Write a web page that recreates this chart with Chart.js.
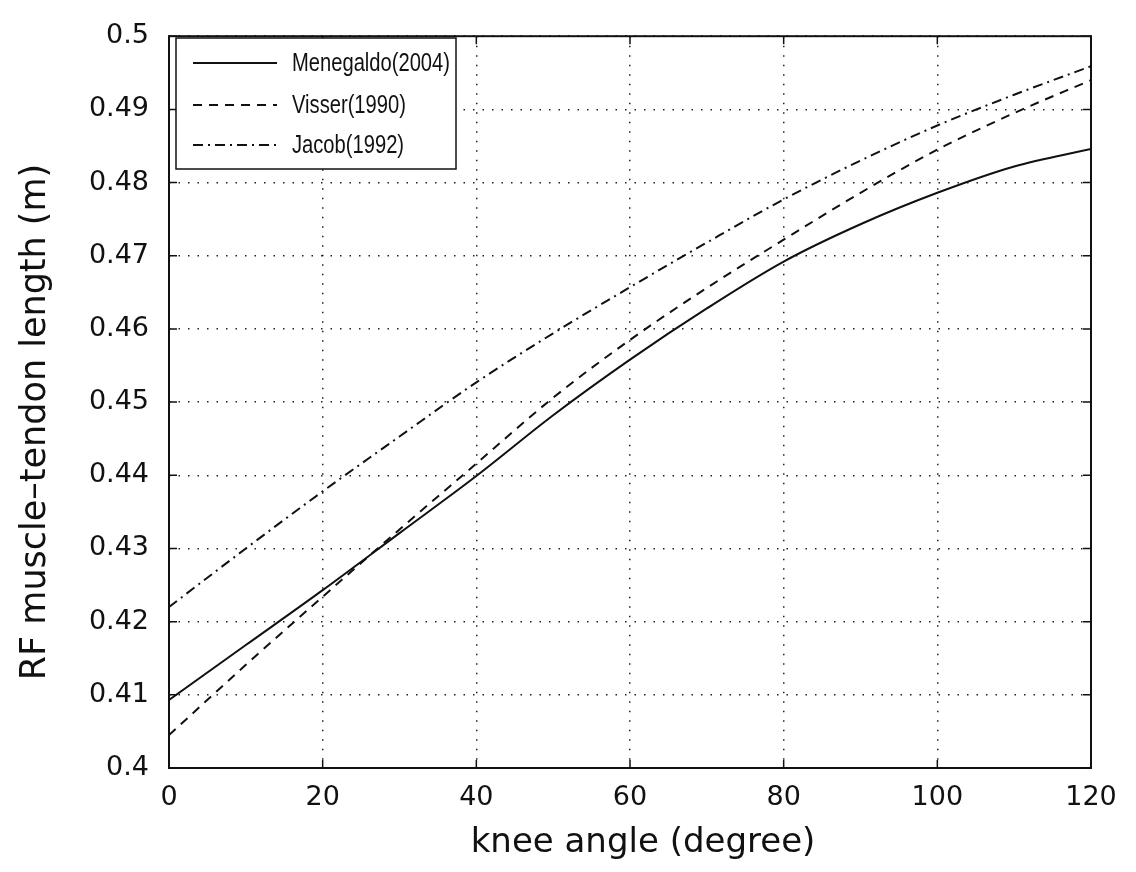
<!DOCTYPE html>
<html>
<head>
<meta charset="utf-8">
<script src="https://cdn.jsdelivr.net/npm/chart.js@4.4.1/dist/chart.umd.min.js"></script>
<style>
  html, body { margin: 0; padding: 0; background: #fff; }
  #wrap { width: 1136px; height: 872px; }
</style>
</head>
<body>
<div id="wrap"><canvas id="rfChart" width="1136" height="872"></canvas></div>
<script>
// knee angle (degree)
const angles = [0, 10, 20, 30, 40, 50, 60, 70, 80, 90, 100, 110, 120];

// RF muscle-tendon length (m)
const menegaldo = [0.4093, 0.4168, 0.4243, 0.4321, 0.4399, 0.4482, 0.4558, 0.4628, 0.4692, 0.4743, 0.4786, 0.4822, 0.4846];
const visser    = [0.4045, 0.4141, 0.4234, 0.4326, 0.4416, 0.4506, 0.4585, 0.4656, 0.4722, 0.4786, 0.4845, 0.4895, 0.4940];
const jacob     = [0.4220, 0.4300, 0.4378, 0.4453, 0.4527, 0.4594, 0.4657, 0.4718, 0.4777, 0.4830, 0.4878, 0.4920, 0.4959];

const seriesNames = ['Menegaldo(2004)', 'Visser(1990)', 'Jacob(1992)'];
const xTitle = 'knee angle (degree)';
const yTitle = 'RF muscle\u2013tendon length (m)';

const INK = '#111';
const dashes = [[], [9, 7], [10, 5, 2, 5]];

function toPoints(values) {
    return angles.map((a, i) => ({ x: a, y: values[i] }));
}

// 边框、内向刻度、图例和坐标轴标题
const framePlugin = {
    id: 'frame',
    afterDraw(chart) {
        const ctx = chart.ctx;
        const area = chart.chartArea;
        const xs = chart.scales.x;
        const ys = chart.scales.y;

        ctx.save();
        ctx.strokeStyle = INK;
        ctx.lineWidth = 2;
        ctx.setLineDash([]);
        ctx.strokeRect(area.left, area.top, area.right - area.left, area.bottom - area.top);

        // inward ticks on all four sides
        const tl = 8;
        ctx.lineWidth = 1.5;
        ctx.beginPath();
        xs.ticks.forEach((t, i) => {
            const px = xs.getPixelForTick(i);
            ctx.moveTo(px, area.bottom); ctx.lineTo(px, area.bottom - tl);
            ctx.moveTo(px, area.top); ctx.lineTo(px, area.top + tl);
        });
        ys.ticks.forEach((t, i) => {
            const py = ys.getPixelForTick(i);
            ctx.moveTo(area.left, py); ctx.lineTo(area.left + tl, py);
            ctx.moveTo(area.right, py); ctx.lineTo(area.right - tl, py);
        });
        ctx.stroke();

        // legend
        const lx = 176, ly = 38, lw = 280, lh = 131;
        ctx.fillStyle = '#fff';
        ctx.fillRect(lx, ly, lw, lh);
        ctx.lineWidth = 1.5;
        ctx.strokeRect(lx, ly, lw, lh);
        const rows = [63, 105, 145];
        ctx.font = "25px 'Liberation Sans', sans-serif";
        ctx.textBaseline = 'middle';
        ctx.textAlign = 'left';
        ctx.fillStyle = INK;
        const squeeze = Math.min(1, 158 / ctx.measureText(seriesNames[0]).width);
        seriesNames.forEach((name, i) => {
            ctx.lineWidth = 2;
            ctx.setLineDash(dashes[i]);
            ctx.beginPath();
            ctx.moveTo(193, rows[i]);
            ctx.lineTo(277, rows[i]);
            ctx.stroke();
            ctx.setLineDash([]);
            ctx.save();
            ctx.translate(292, rows[i] + 1);
            ctx.scale(squeeze, 1);
            ctx.fillText(name, 0, 0);
            ctx.restore();
        });

        // axis titles
        ctx.font = "34px 'DejaVu Sans', sans-serif";
        ctx.textAlign = 'center';
        ctx.fillText(xTitle, 643, 843);
        ctx.font = "35px 'DejaVu Sans', sans-serif";
        ctx.translate(36, 422);
        ctx.rotate(-Math.PI / 2);
        ctx.fillText(yTitle, 0, 0);
        ctx.restore();
    }
};

const makeSet = (label, values, i) => ({
    label: label,
    data: toPoints(values),
    borderColor: INK,
    borderWidth: 2,
    borderDash: dashes[i],
    pointRadius: 0,
    fill: false,
    cubicInterpolationMode: 'monotone'
});

new Chart(document.getElementById('rfChart'), {
    type: 'line',
    data: {
        datasets: [
            makeSet(seriesNames[0], menegaldo, 0),
            makeSet(seriesNames[1], visser, 1),
            makeSet(seriesNames[2], jacob, 2)
        ]
    },
    options: {
        responsive: false,
        animation: false,
        layout: { padding: { top: 33, right: 45, left: 0, bottom: 0 } },
        plugins: {
            legend: { display: false },
            tooltip: { enabled: false }
        },
        scales: {
            x: {
                type: 'linear',
                min: 0,
                max: 120,
                afterFit: s => { s.height = 104; },
                ticks: {
                    stepSize: 20,
                    color: INK,
                    padding: 14,
                    maxRotation: 0,
                    font: { family: "'DejaVu Sans', sans-serif", size: 27 }
                },
                grid: { color: '#222', lineWidth: 1.5, drawTicks: false },
                border: { display: false, dash: [1.5, 8] }
            },
            y: {
                type: 'linear',
                min: 0.4,
                max: 0.5,
                afterFit: s => { s.width = 169; },
                ticks: {
                    stepSize: 0.01,
                    color: INK,
                    padding: 20,
                    font: { family: "'DejaVu Sans', sans-serif", size: 27 },
                    callback: v => String(Number(v.toFixed(2)))
                },
                grid: { color: '#222', lineWidth: 1.5, drawTicks: false },
                border: { display: false, dash: [1.5, 8] }
            }
        }
    },
    plugins: [framePlugin]
});
</script>
</body>
</html>
